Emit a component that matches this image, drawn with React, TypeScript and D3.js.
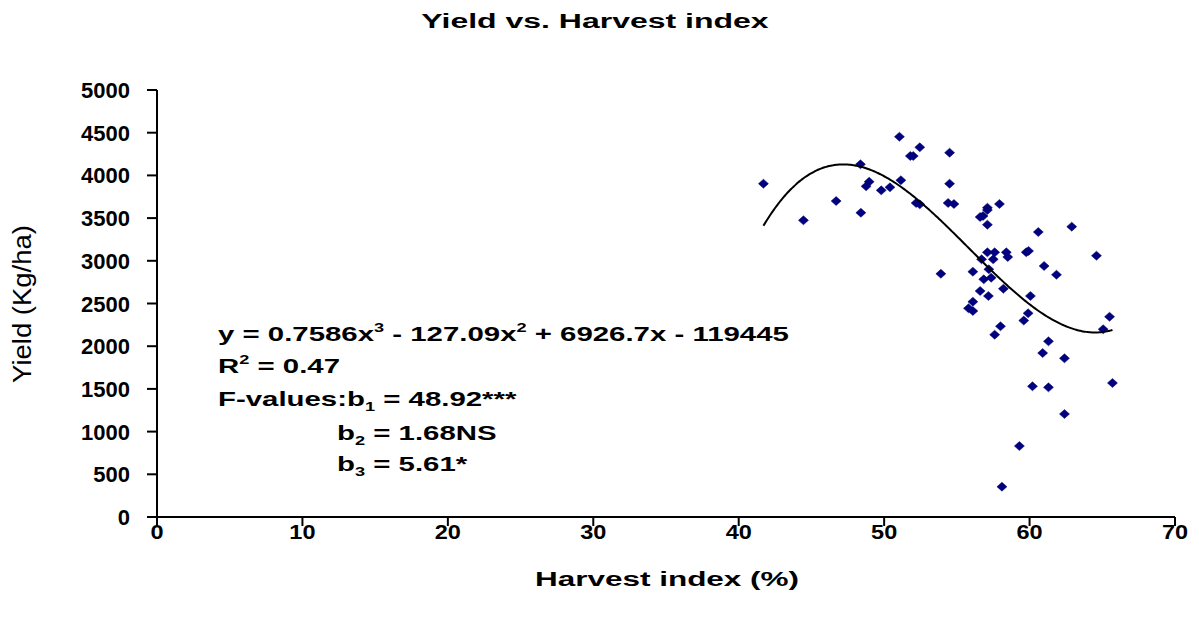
import React from "react";
import * as d3 from "d3";

// Harvest index (%) and grain yield (Kg/ha) of each plot
const harvestIndex = [
  41.7, 44.45, 46.7, 48.4, 48.37, 48.97, 48.76, 49.8, 50.4, 51.15, 51.05, 52.45,
  51.8, 52.0, 52.2, 52.45, 54.5, 54.5, 54.4, 54.8, 53.9, 57.1, 57.1, 56.6, 56.8,
  57.1, 57.93, 60.6, 62.9, 57.1, 57.6, 58.4, 57.5, 58.5, 56.7, 59.77, 59.93, 64.6,
  56.1, 57.2, 56.85, 57.36, 61.0, 61.85, 56.6, 57.17, 58.2, 60.06, 56.1, 55.8,
  56.1, 59.9, 59.6, 65.5, 65.06, 58.0, 57.6, 61.3, 60.9, 62.4, 60.2, 61.3, 65.7,
  62.4, 59.3, 58.1,
];
const yieldKgHa = [
  3903, 3474, 3700, 3563, 4130, 3926, 3872, 3825, 3860, 3943, 4453, 4329, 4227,
  4227, 3677, 3661, 4266, 3903, 3677, 3665, 2848, 3622, 3595, 3513, 3525, 3423,
  3665, 3337, 3400, 3099, 3099, 3099, 3017, 3044, 3017, 3100, 3115, 3060, 2873,
  2900, 2783, 2802, 2939, 2837, 2646, 2588, 2673, 2588, 2521, 2444, 2412, 2385,
  2300, 2345, 2198, 2233, 2135, 2057, 1920, 1858, 1530, 1518, 1569, 1206, 831, 355,
];

// Cubic trend: y = 0.7586x^3 - 127.09x^2 + 6926.7x - 119445
const trendCoefficients = [0.7586, -127.09, 6926.7, -119445];
const trendRange = [41.7, 65.7];

const xTicks = [0, 10, 20, 30, 40, 50, 60, 70];
const yTicks = [0, 500, 1000, 1500, 2000, 2500, 3000, 3500, 4000, 4500, 5000];

const FONT = "'Liberation Sans', Arial, sans-serif";

export default function App() {
  const width = 1199;
  const height = 617;
  const left = 157;
  const right = 1175;
  const top = 90;
  const bottom = 517;

  const x = d3.scaleLinear().domain([0, 70]).range([left, right]);
  const y = d3.scaleLinear().domain([0, 5000]).range([bottom, top]);

  const trend = (v: number) => {
    const [a, b, c, d] = trendCoefficients;
    return ((a * v + b) * v + c) * v + d;
  };
  const curveXs = d3.range(trendRange[0], trendRange[1] + 0.001, 0.1);
  const line = d3
    .line<number>()
    .x((v) => x(v))
    .y((v) => y(trend(v)))
    .curve(d3.curveMonotoneX);

  const diamond = (cx: number, cy: number) =>
    `M${cx},${cy - 4.5}L${cx + 5},${cy}L${cx},${cy + 4.5}L${cx - 5},${cy}Z`;

  // Bold lettering, stretched horizontally by sx
  const T = (
    px: number,
    py: number,
    anchor: "start" | "middle" | "end",
    size: number,
    sx: number,
    children: React.ReactNode
  ) => (
    <g transform={`translate(${px},${py}) scale(${sx},1)`}>
      <text
        x={0}
        y={0}
        textAnchor={anchor}
        fontFamily={FONT}
        fontSize={size}
        fontWeight="bold"
        fill="#000"
      >
        {children}
      </text>
    </g>
  );

  const sup = (s: string) => (
    <tspan fontSize={13} dy={-9}>
      {s}
    </tspan>
  );
  const sub = (s: string) => (
    <tspan fontSize={13} dy={5}>
      {s}
    </tspan>
  );
  const back = (dy: number, s: string) => <tspan dy={dy}>{s}</tspan>;

  const EQ = 1.4;
  const EQF = 21;

  return (
    <svg
      width={width}
      height={height}
      style={{ position: "absolute", left: 0, top: 0, background: "#fff" }}
    >
      <rect width={width} height={height} fill="#fff" />

      {T(595, 28, "middle", 20, 1.6, "Yield vs. Harvest index")}

      {/* y axis */}
      <line x1={left} x2={left} y1={top} y2={bottom} stroke="#000" strokeWidth={2} />
      {yTicks.map((t) => (
        <g key={t}>
          <line x1={left - 10} x2={left} y1={y(t)} y2={y(t)} stroke="#000" strokeWidth={2} />
          {T(left - 27, y(t) + 8, "end", 22, 1.0, String(t))}
        </g>
      ))}

      {/* x axis */}
      <line x1={left} x2={right} y1={bottom} y2={bottom} stroke="#000" strokeWidth={2} />
      {xTicks.map((t) => (
        <g key={t}>
          <line x1={x(t)} x2={x(t)} y1={bottom} y2={bottom + 9} stroke="#000" strokeWidth={2} />
          {T(x(t), bottom + 22, "middle", 21, 1.12, String(t))}
        </g>
      ))}

      {T(667, 586, "middle", 21, 1.5, "Harvest index (%)")}

      <g transform="translate(31,304) rotate(-90) scale(1.25,1.2)">
        <text textAnchor="middle" fontFamily={FONT} fontSize={22} fill="#000">
          Yield (Kg/ha)
        </text>
      </g>

      {/* points */}
      {harvestIndex.map((h, i) => (
        <path
          key={i}
          d={diamond(x(h), y(yieldKgHa[i]))}
          fill="#000080"
          stroke="#000060"
          strokeWidth={0.5}
        />
      ))}

      {/* cubic trend line */}
      <path d={line(curveXs) || ""} fill="none" stroke="#000" strokeWidth={2} />

      {/* regression statistics */}
      {T(218, 341, "start", EQF, EQ, <>
        y = 0.7586x{sup("3")}{back(9, " - 127.09x")}{sup("2")}{back(9, " + 6926.7x - 119445")}
      </>)}
      {T(218, 373, "start", EQF, EQ, <>
        R{sup("2")}{back(9, " = 0.47")}
      </>)}
      {T(218, 406, "start", EQF, EQ, <>
        F-values:b{sub("1")}{back(-5, " = 48.92***")}
      </>)}
      {T(337, 440, "start", EQF, EQ, <>
        b{sub("2")}{back(-5, " = 1.68NS")}
      </>)}
      {T(337, 471, "start", EQF, EQ, <>
        b{sub("3")}{back(-5, " = 5.61*")}
      </>)}
    </svg>
  );
}
